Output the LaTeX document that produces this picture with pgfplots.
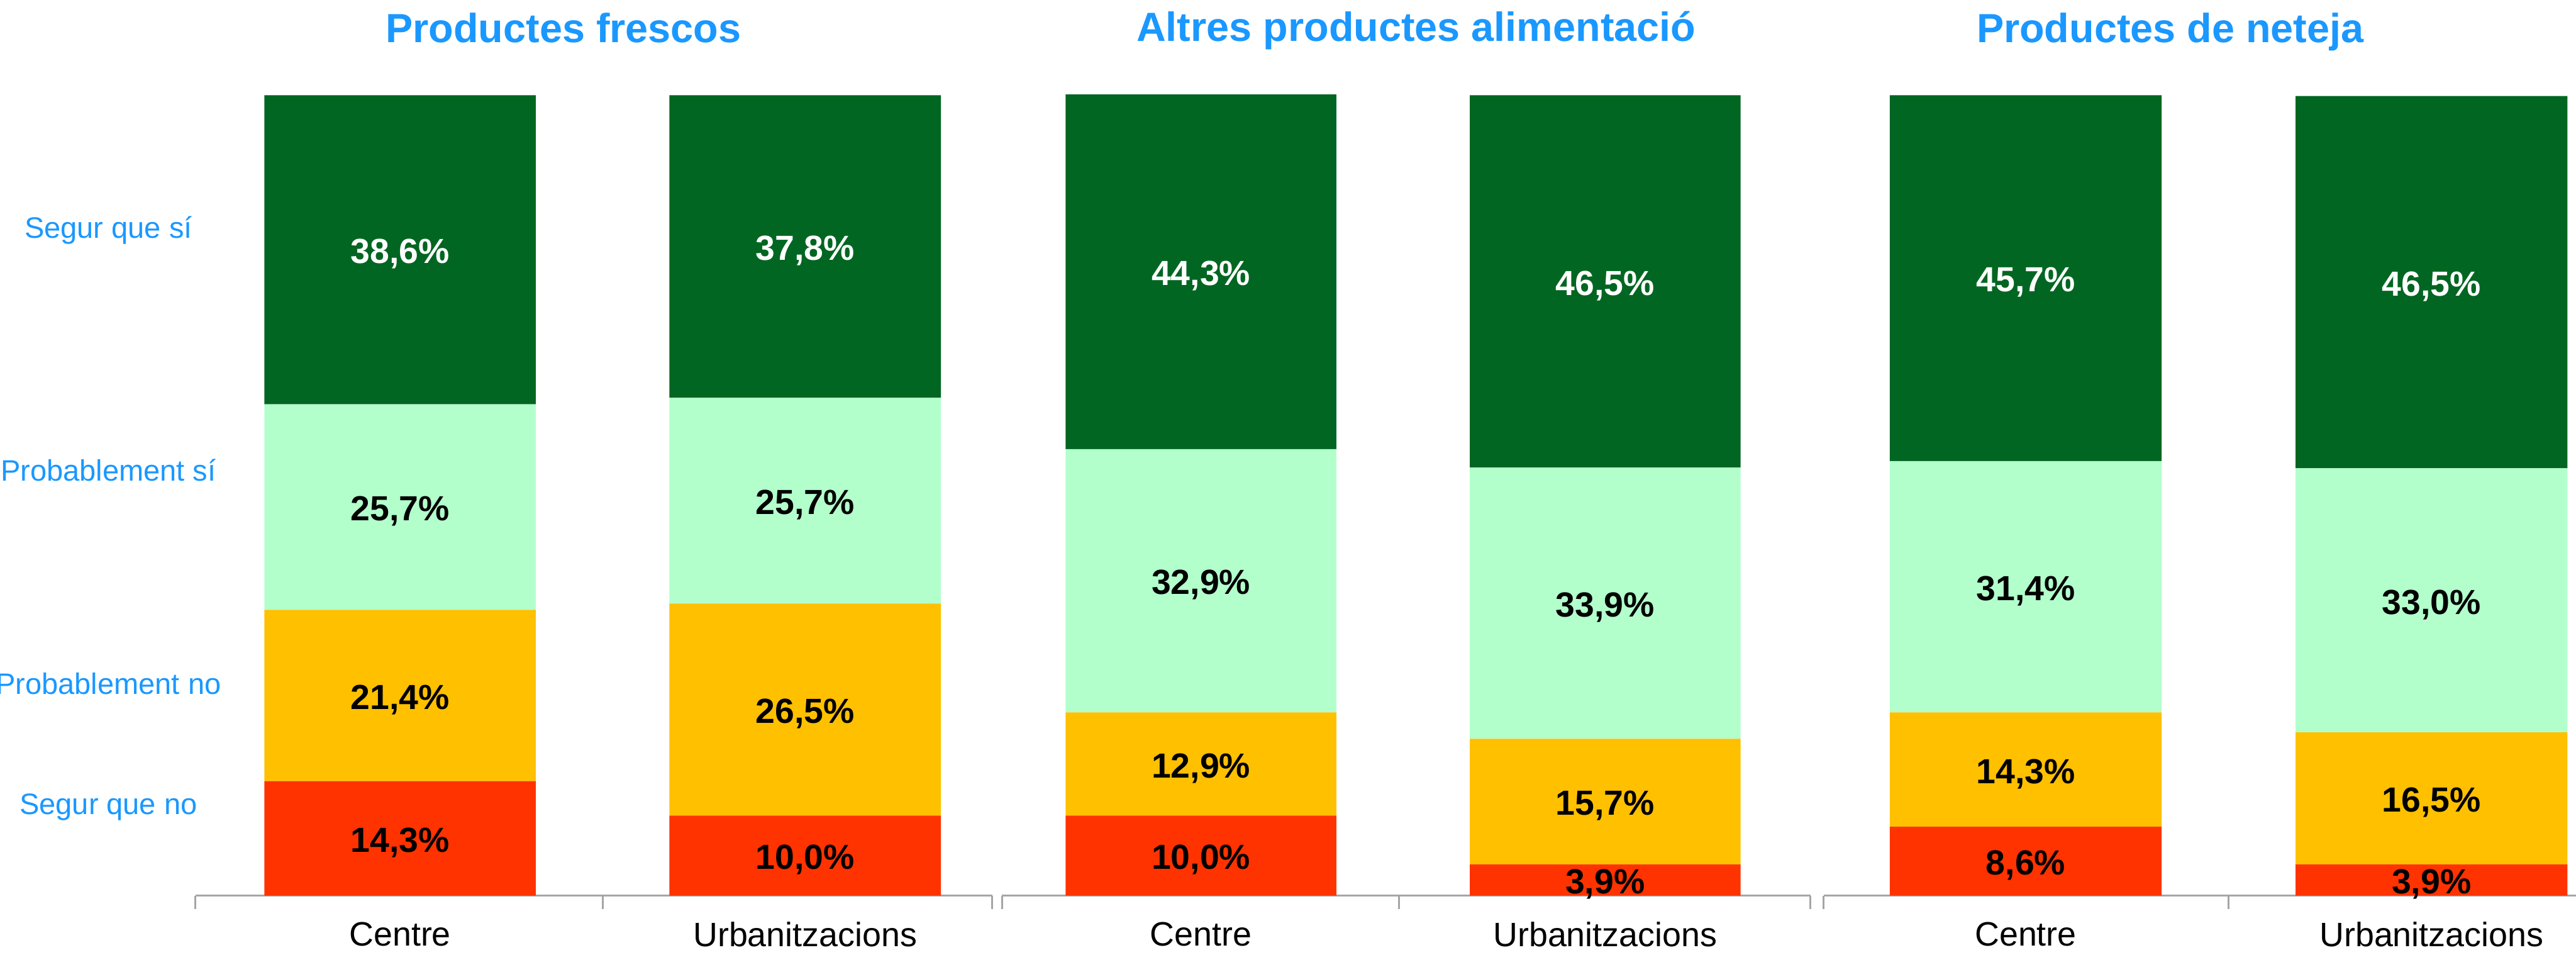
\documentclass[border=0pt]{standalone}
\usepackage{fontspec}
\setmainfont{Liberation Sans}
\usepackage{pgfplots}
\usepackage{pgfplotstable}
\pgfplotsset{compat=1.18}
\definecolor{dgreen}{RGB}{0,102,33}
\definecolor{lgreen}{RGB}{179,255,204}
\definecolor{amber}{RGB}{255,192,0}
\definecolor{redo}{RGB}{255,51,0}
\definecolor{tblue}{RGB}{26,152,255}
\definecolor{axgray}{RGB}{165,165,165}

\pgfplotstableread{
x sqn pn ps sqs
0 14.3 21.4 25.7 38.6
1 10.0 26.5 25.7 37.8
}\frescos
\pgfplotstableread{
x sqn pn ps sqs
0 10.0 12.9 32.9 44.3
1 3.9 15.7 33.9 46.5
}\altres
\pgfplotstableread{
x sqn pn ps sqs
0 8.6 14.3 31.4 45.7
1 3.9 16.5 33.0 46.5
}\neteja

\pgfplotsset{
  panel/.style={
    anchor=south west,
    scale only axis,
    height=243.5pt,
    ymin=0, ymax=100,
    ybar stacked,
    bar width=0.67,
    hide y axis,
    axis x line*=bottom,
    x axis line style={draw=axgray, line width=0.7pt, -},
    xticklabels={},
    xtick style={draw=axgray, line width=0.6pt},
    tick align=outside,
    major tick length=4pt,
    extra x ticks={0,1},
    extra x tick labels={Centre,Urbanitzacions},
    extra x tick style={xtick style={draw=none}, major tick length=0pt,
      xticklabel style={font=\fontsize{10.3}{12}\selectfont, yshift=-4.5pt}},
    clip=false,
    visualization depends on={rawy \as \segval},
    every node near coord/.append style={anchor=center, yshift=-1.3pt,
      font=\bfseries\fontsize{10.6}{12}\selectfont, inner sep=0pt},
  },
  seg/.style 2 args={fill=#1, draw=none,
    nodes near coords={\pgfmathprintnumber[fixed,fixed zerofill,precision=1,use comma,assume math mode=true]{\segval}\%},
    every node near coord/.append style={text=#2}},
}

\begin{document}
\begin{tikzpicture}
\useasboundingbox (0,0) rectangle (784pt,290.5pt);

\begin{axis}[panel, at={(59.5pt,18pt)}, width=242.5pt, xmin=-0.505, xmax=1.462, xtick={-0.505,0.5,1.462}]
\addplot[seg={redo}{black}] table[x=x,y=sqn]{\frescos};
\addplot[seg={amber}{black}] table[x=x,y=pn]{\frescos};
\addplot[seg={lgreen}{black}] table[x=x,y=ps]{\frescos};
\addplot[seg={dgreen}{white}] table[x=x,y=sqs]{\frescos};
\end{axis}

\begin{axis}[panel, at={(305pt,18pt)}, width=246pt, xmin=-0.492, xmax=1.508, xtick={-0.492,0.49,1.508}]
\addplot[seg={redo}{black}] table[x=x,y=sqn]{\altres};
\addplot[seg={amber}{black}] table[x=x,y=pn]{\altres};
\addplot[seg={lgreen}{black}] table[x=x,y=ps]{\altres};
\addplot[seg={dgreen}{white}] table[x=x,y=sqs]{\altres};
\end{axis}

\begin{axis}[panel, at={(555pt,18pt)}, width=229pt, xmin=-0.498, xmax=1.356, xtick={-0.498,0.5}]
\addplot[seg={redo}{black}] table[x=x,y=sqn]{\neteja};
\addplot[seg={amber}{black}] table[x=x,y=pn]{\neteja};
\addplot[seg={lgreen}{black}] table[x=x,y=ps]{\neteja};
\addplot[seg={dgreen}{white}] table[x=x,y=sqs]{\neteja};
\end{axis}

% panel titles
\begin{scope}[every node/.style={anchor=base, text=tblue, font=\bfseries\fontsize{12.4}{14}\selectfont, inner sep=0pt}]
\node at (171.5pt,277.5pt) {Productes frescos};
\node at (431pt,278pt) {Altres productes alimentació};
\node at (660.5pt,277.5pt) {Productes de neteja};
\end{scope}

% row labels
\begin{scope}[every node/.style={anchor=center, text=tblue, font=\fontsize{9}{11}\selectfont, inner sep=0pt}]
\node at (33pt,220.5pt) {Segur que sí};
\node at (33pt,147.5pt) {Probablement sí};
\node at (33pt,82.5pt) {Probablement no};
\node at (33pt,45pt) {Segur que no};
\end{scope}
\end{tikzpicture}
\end{document}
